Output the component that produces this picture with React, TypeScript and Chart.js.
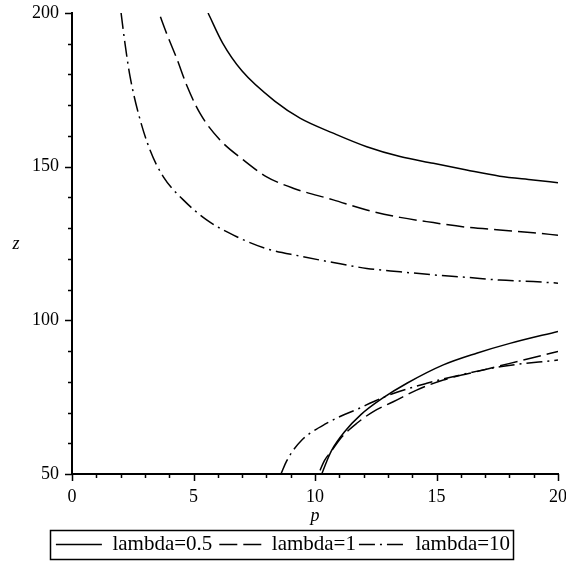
import React, { useEffect, useRef } from 'react';
import { Chart, registerables } from 'chart.js';

Chart.register(...registerables);

const SERIES_LABELS = ['lambda=0.5', 'lambda=1', 'lambda=10'];

const X_TICK_VALUES = [0, 5, 10, 15, 20];
const Y_TICK_VALUES = [50, 100, 150, 200];

// lambda = 0.5
const P_UPPER_05 = [5.6, 6.2, 7.0, 8.4, 9.4, 10.75, 12.13, 13.5, 14.87, 16.24, 17.6, 18.98, 20];
const Z_UPPER_05 = [200, 190.2, 181.1, 171, 165.7, 160.9, 156.5, 153.3, 151.1, 148.9, 146.9, 145.7, 144.8];
const P_LOWER_05 = [10.28, 10.5, 10.69, 11.2, 11.9, 12.75, 13.8, 15.28, 16.65, 18.02, 20];
const Z_LOWER_05 = [50, 54.5, 57.8, 63.6, 69.4, 74.5, 79.6, 85.5, 89.3, 92.5, 96.4];

// lambda = 1
const P_UPPER_1 = [3.58, 3.9, 4.31, 4.72, 5.27, 6.09, 7.05, 8.01, 9.1, 10.75, 12.13, 13.5, 14.87, 16.24, 17.6, 18.98, 20];
const Z_UPPER_1 = [200, 193.2, 185.2, 176.5, 167.3, 158.7, 152.2, 146.7, 143, 139.2, 135.9, 133.5, 131.8, 130.3, 129.4, 128.5, 127.7];
const P_LOWER_1 = [10.14, 10.4, 10.69, 11.1, 11.72, 12.4, 13.22, 14.18, 15.28, 16.65, 18.02, 20];
const Z_LOWER_1 = [50, 54.5, 57.6, 62, 66.5, 70.3, 73.5, 77.3, 80.6, 83.3, 86, 89.9];

// lambda = 10
const P_UPPER_10 = [2.02, 2.18, 2.39, 2.73, 3.21, 3.76, 4.58, 5.54, 6.78, 8.01, 9.38, 10.75, 12.13, 13.5, 14.87, 16.24, 17.6, 18.98, 20];
const Z_UPPER_10 = [200, 190.1, 179.3, 167.4, 155.4, 146.7, 139.2, 132.7, 127.2, 123.3, 120.9, 118.8, 116.9, 115.8, 114.8, 114, 113.1, 112.6, 112.1];
const P_LOWER_10 = [8.6, 8.83, 9.11, 9.45, 9.86, 10.41, 11.03, 11.72, 12.4, 13.22, 14.6, 15.97, 17.61, 20];
const Z_LOWER_10 = [50, 54.2, 57.8, 61, 63.6, 66.2, 68.7, 71, 73.5, 76.2, 79.5, 82.2, 84.9, 87.1];

const SERIF = '"Liberation Serif", "Times New Roman", serif';

function branches(pu: number[], zu: number[], pl: number[], zl: number[]) {
  const up = pu.map((p, i) => ({ x: p, y: zu[i] }));
  const lo = pl.map((p, i) => ({ x: p, y: zl[i] }));
  return [...up, { x: 20, y: null as any }, ...lo];
}

const tickMarksPlugin = {
  id: 'tickMarks',
  afterDraw(chart: any) {
    const { ctx, chartArea, scales } = chart;
    const xs = scales.x;
    const ys = scales.y;
    ctx.save();
    ctx.strokeStyle = '#000';
    ctx.lineWidth = 1.5;
    ctx.beginPath();
    for (let v = xs.min; v <= xs.max; v += 1) {
      const px = Math.round(xs.getPixelForValue(v)) + 0.5;
      const len = v % 5 === 0 ? 7 : 4;
      ctx.moveTo(px, chartArea.bottom);
      ctx.lineTo(px, chartArea.bottom + len);
    }
    for (let v = ys.min; v <= ys.max; v += 10) {
      const py = Math.round(ys.getPixelForValue(v)) + 0.5;
      const len = v % 50 === 0 ? 7 : 4;
      ctx.moveTo(chartArea.left - len, py);
      ctx.lineTo(chartArea.left, py);
    }
    ctx.stroke();
    // horizontal y-axis title
    ctx.fillStyle = '#000';
    ctx.font = `italic 18px ${SERIF}`;
    ctx.textAlign = 'center';
    ctx.textBaseline = 'middle';
    ctx.fillText('z', 16, (chartArea.top + chartArea.bottom) / 2 + 1);
    // legend frame
    const boxes = chart.legend && chart.legend.legendHitBoxes;
    if (boxes && boxes.length) {
      let l = Infinity, r = -Infinity, t = Infinity, b = -Infinity;
      boxes.forEach((h: any) => {
        l = Math.min(l, h.left);
        r = Math.max(r, h.left + h.width);
        t = Math.min(t, h.top);
        b = Math.max(b, h.top + h.height);
      });
      ctx.lineWidth = 1.5;
      ctx.strokeRect(Math.round(l - 6) + 0.5, Math.round(t - 4) + 0.5, Math.round(r - l + 9), Math.round(b - t + 8));
    }
    ctx.restore();
  },
};

export default function App() {
  const ref = useRef<HTMLCanvasElement>(null);
  useEffect(() => {
    document.body.style.margin = '0';
    const common = {
      borderColor: '#000',
      backgroundColor: '#000',
      borderWidth: 1.5,
      pointRadius: 0,
      pointHoverRadius: 0,
      fill: false,
      spanGaps: false,
      cubicInterpolationMode: 'monotone' as const,
    };
    const chart = new Chart(ref.current!, {
      type: 'line',
      data: {
        datasets: [
          { ...common, label: SERIES_LABELS[0], data: branches(P_UPPER_05, Z_UPPER_05, P_LOWER_05, Z_LOWER_05) },
          { ...common, label: SERIES_LABELS[1], borderDash: [18, 6], borderDashOffset: 20, data: branches(P_UPPER_1, Z_UPPER_1, P_LOWER_1, Z_LOWER_1) },
          { ...common, label: SERIES_LABELS[2], borderDash: [16, 5, 2, 5], borderDashOffset: 0, data: branches(P_UPPER_10, Z_UPPER_10, P_LOWER_10, Z_LOWER_10) },
        ],
      },
      options: {
        animation: false,
        responsive: true,
        maintainAspectRatio: false,
        events: [],
        layout: { padding: { left: 0, top: 13, right: 0, bottom: -1 } },
        plugins: {
          tooltip: { enabled: false },
          legend: {
            display: true,
            position: 'bottom',
            labels: {
              color: '#000',
              font: { family: SERIF, size: 21 },
              usePointStyle: true,
              pointStyle: 'line',
              pointStyleWidth: 46,
              boxHeight: 21,
              padding: 3,
              generateLabels: (ch: any) => {
                const items = (Chart.defaults.plugins.legend.labels as any).generateLabels(ch);
                items.forEach((it: any, i: number) => {
                  const ds: any = ch.data.datasets[i];
                  it.lineDash = ds.borderDash || [];
                  it.lineDashOffset = ds.borderDashOffset || 0;
                  it.lineWidth = 1.5;
                  it.strokeStyle = '#000';
                  it.fillStyle = '#000';
                  it.pointStyle = 'line';
                });
                return items;
              },
            },
          },
        },
        scales: {
          x: {
            type: 'linear',
            min: 0,
            max: 20,
            grid: { display: false, drawTicks: false },
            border: { display: true, color: '#000', width: 2 },
            ticks: {
              stepSize: 1,
              autoSkip: false,
              maxRotation: 0,
              color: '#000',
              padding: 12,
              font: { family: SERIF, size: 18 },
              callback: (v: any) => (X_TICK_VALUES.includes(Number(v)) ? String(v) : ''),
            },
            title: {
              display: true,
              text: 'p',
              color: '#000',
              font: { family: SERIF, size: 18, style: 'italic' },
              padding: { top: 0, bottom: 4 },
            },
            afterFit: (s: any) => {
              s.height = 57;
              s.paddingLeft = 0;
              s.paddingRight = 8;
            },
          },
          y: {
            type: 'linear',
            min: 50,
            max: 200,
            grid: { display: false, drawTicks: false },
            border: { display: true, color: '#000', width: 2 },
            ticks: {
              stepSize: 10,
              autoSkip: false,
              color: '#000',
              padding: 13,
              font: { family: SERIF, size: 18 },
              callback: (v: any) => (Y_TICK_VALUES.includes(Number(v)) ? String(v) : ''),
            },
            afterFit: (s: any) => {
              s.width = 72;
              s.paddingTop = 0;
              s.paddingBottom = 0;
            },
          },
        },
      },
      plugins: [tickMarksPlugin],
    });
    return () => chart.destroy();
  }, []);
  return (
    <div style={{ width: 566, height: 564, position: 'relative' }}>
      <canvas ref={ref} />
    </div>
  );
}
